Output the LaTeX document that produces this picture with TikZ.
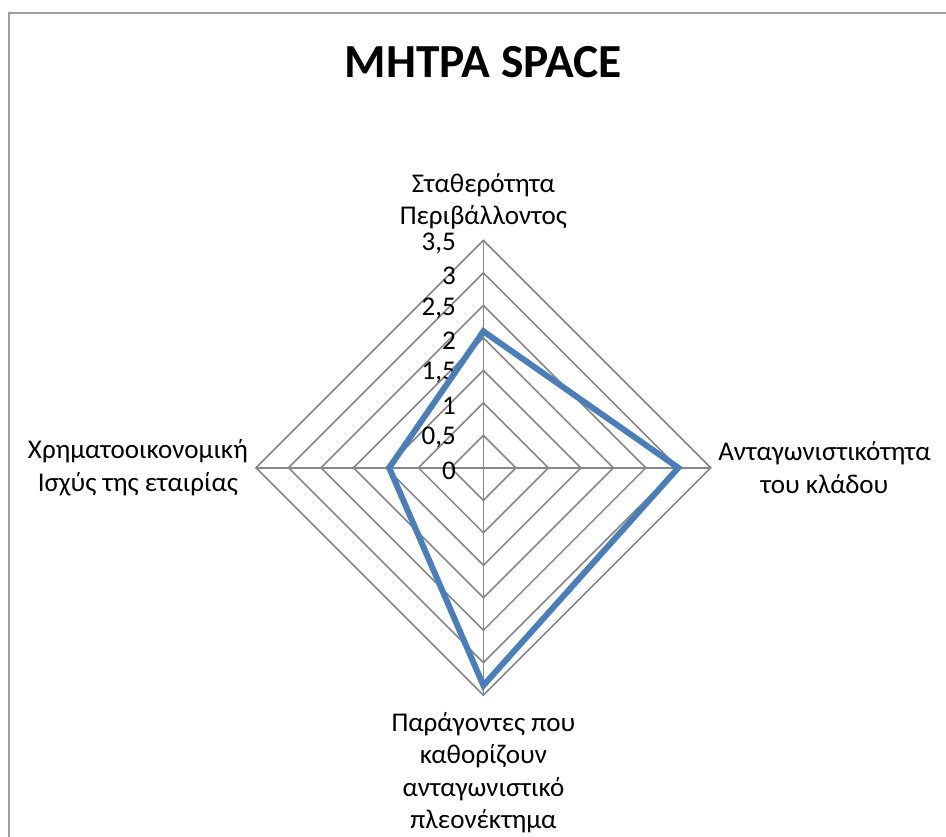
\documentclass[tikz,border=0pt]{standalone}
\usepackage{fontspec}
\setmainfont{Carlito}
\definecolor{gridgray}{HTML}{868686}
\definecolor{seriesblue}{HTML}{4A7EBB}

\begin{document}
\begin{tikzpicture}[x=1.3cm, y=1.3cm,
    grid/.style={gridgray, line width=0.9pt},
    axislabel/.style={align=center, inner sep=0pt, font=\fontsize{15.4}{18.5}\selectfont},
    ticklabel/.style={anchor=east, inner sep=0pt, font=\fontsize{15.4}{17}\selectfont}]

    % Page
    \useasboundingbox (-7.44,-5.68) rectangle (7.12,7.2);
    \clip (-7.44,-5.68) rectangle (7.12,7.2);
    \fill[white] (-7.44,-5.68) rectangle (7.12,7.2);
    \draw[gray!75, line width=0.9pt] (-7.3,-6) rectangle (7.5,7.0);

    % Title
    \node[anchor=base, font=\bfseries\fontsize{27}{32}\selectfont] (title) at (0,6.01) {ΜΗΤΡΑ SPACE};

    % Grid
    \foreach \r in {0.5,1,...,3.5}
        \draw[grid] (0,\r) -- (\r,0) -- (0,-\r) -- (-\r,0) -- cycle;
    \draw[grid] (0,-3.5) -- (0,3.5);
    \draw[grid] (-3.5,0) -- (3.5,0);

    % Scale
    \foreach \t [count=\i from 0] in {0,{0,5},1,{1,5},2,{2,5},3,{3,5}}
        \node[ticklabel] (tick\i) at (-0.42,\i*0.5-0.04) {\t};

    % Axis labels
    \node[axislabel, anchor=south] (stability) at (0,3.66) {Σταθερότητα\\Περιβάλλοντος};
    \node[axislabel, anchor=west] (industry) at (3.61,0) {Ανταγωνιστικότητα\\του κλάδου};
    \node[axislabel, anchor=north] (advantage) at (0,-3.76) {Παράγοντες που\\καθορίζουν\\ανταγωνιστικό\\πλεονέκτημα};
    \node[axislabel, anchor=east] (finance) at (-3.62,0) {Χρηματοοικονομική\\Ισχύς της εταιρίας};

    % Series
    \coordinate (es) at (0,2.1);
    \coordinate (is) at (3,0);
    \coordinate (ca) at (0,-3.35);
    \coordinate (fs) at (-1.45,0);
    \draw[seriesblue, line width=3.4pt] (es) -- (is) -- (ca) -- (fs) -- cycle;

\end{tikzpicture}
\end{document}
